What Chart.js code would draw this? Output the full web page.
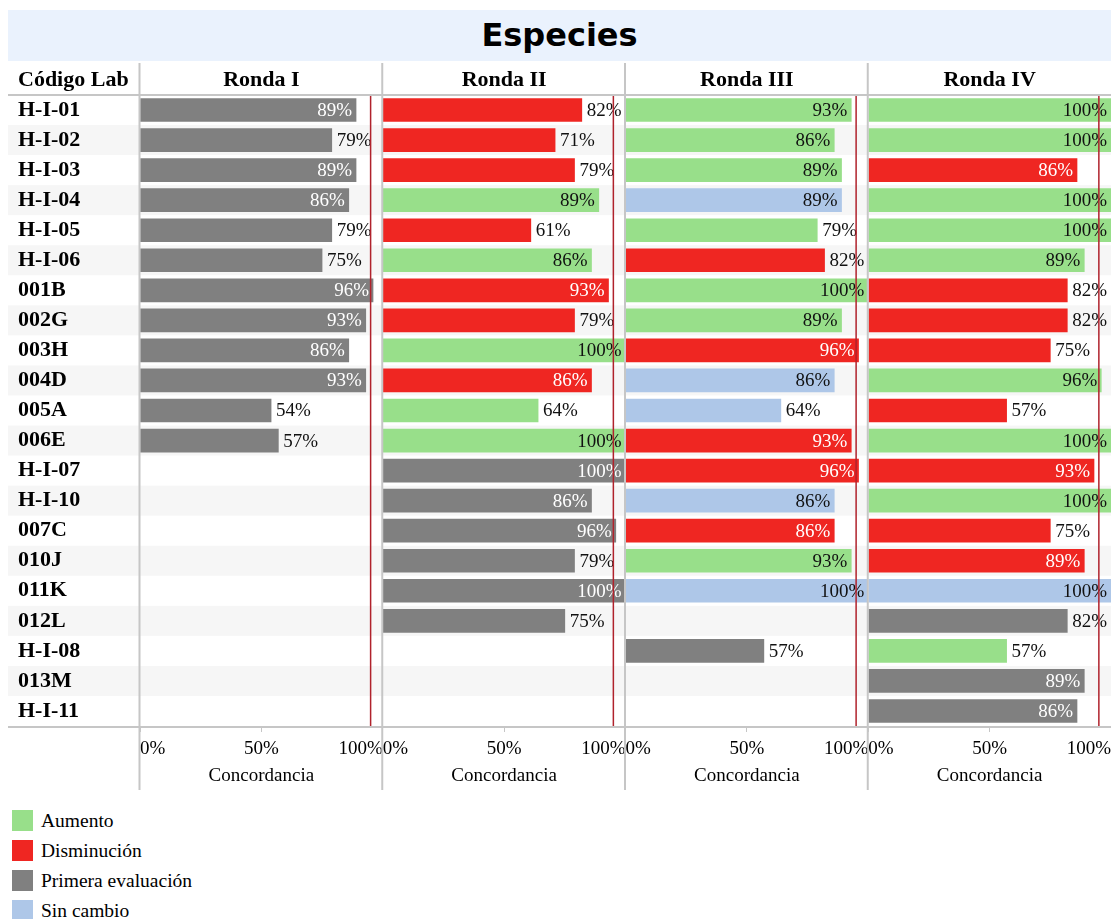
<!DOCTYPE html>
<html lang="es">
<head>
<meta charset="UTF-8">
<title>Especies</title>
<script src="https://cdn.jsdelivr.net/npm/chart.js"></script>
<style>
    body {
        margin: 0;
        background: #fff;
        font-family: 'Liberation Serif', 'Times New Roman', serif;
        color: #000;
    }
    .contenedor {
        position: relative;
        width: 1111px;
        height: 919px;
        overflow: hidden;
    }
    .titulo {
        position: absolute;
        left: 8px;
        top: 10px;
        width: 1103px;
        height: 51px;
        background: #eaf2fd;
        font: bold 32px 'DejaVu Sans', sans-serif;
        text-align: center;
        line-height: 51px;
    }
    #grafico {
        position: absolute;
        left: 0;
        top: 63px;
    }
    .leyenda {
        position: absolute;
        left: 12px;
        top: 810px;
    }
    .leyenda div {
        height: 30px;
        display: flex;
        align-items: flex-start;
        font-size: 19.5px;
        line-height: 22px;
    }
    .leyenda span {
        display: inline-block;
        width: 21px;
        height: 21px;
        margin-right: 8px;
    }
</style>
</head>
<body>
<div class="contenedor">
    <div class="titulo">Especies</div>
    <canvas id="grafico" width="1111" height="735"></canvas>
    <div class="leyenda" id="leyenda"></div>
</div>

<script>
const codigos = ['H-I-01', 'H-I-02', 'H-I-03', 'H-I-04', 'H-I-05', 'H-I-06', '001B', '002G', '003H', '004D',
    '005A', '006E', 'H-I-07', 'H-I-10', '007C', '010J', '011K', '012L', 'H-I-08', '013M', 'H-I-11'];
const rondas = ['Ronda I', 'Ronda II', 'Ronda III', 'Ronda IV'];

// concordancia (%) por ronda, null = sin dato
const ronda1 = [89, 79, 89, 86, 79, 75, 96, 93, 86, 93, 54, 57, null, null, null, null, null, null, null, null, null];
const ronda2 = [82, 71, 79, 89, 61, 86, 93, 79, 100, 86, 64, 100, 100, 86, 96, 79, 100, 75, null, null, null];
const ronda3 = [93, 86, 89, 89, 79, 82, 100, 89, 96, 86, 64, 93, 96, 86, 86, 93, 100, null, 57, null, null];
const ronda4 = [100, 100, 86, 100, 100, 89, 82, 82, 75, 96, 57, 100, 93, 100, 75, 89, 100, 82, 57, 89, 86];

// A = Aumento, D = Disminución, P = Primera evaluación, S = Sin cambio
const estado1 = ['P', 'P', 'P', 'P', 'P', 'P', 'P', 'P', 'P', 'P', 'P', 'P', null, null, null, null, null, null, null, null, null];
const estado2 = ['D', 'D', 'D', 'A', 'D', 'A', 'D', 'D', 'A', 'D', 'A', 'A', 'P', 'P', 'P', 'P', 'P', 'P', null, null, null];
const estado3 = ['A', 'A', 'A', 'S', 'A', 'D', 'A', 'A', 'D', 'S', 'S', 'D', 'D', 'S', 'D', 'A', 'S', null, 'P', null, null];
const estado4 = ['A', 'A', 'D', 'A', 'A', 'A', 'D', 'D', 'D', 'A', 'D', 'A', 'D', 'A', 'D', 'D', 'S', 'P', 'A', 'P', 'P'];

const ticksX = [0, 50, 100];
const umbral = 95;

const nombresEstado = { A: 'Aumento', D: 'Disminución', P: 'Primera evaluación', S: 'Sin cambio' };
const colores = { A: '#98df8a', D: '#ef2622', P: '#808080', S: '#aec7e8' };
const oscuros = ['D', 'P'];

const valores = [ronda1, ronda2, ronda3, ronda4];
const estados = [estado1, estado2, estado3, estado4];

const fuente = "'Liberation Serif', 'Times New Roman', serif";
const gris = '#c6c6c6';

// leyenda en html
const leyenda = document.getElementById('leyenda');
Object.keys(nombresEstado).forEach(k => {
    const fila = document.createElement('div');
    fila.innerHTML = `<span style="background:${colores[k]}"></span>${nombresEstado[k]}`;
    leyenda.appendChild(fila);
});

const datasets = valores.map((vals, i) => ({
    label: rondas[i],
    data: vals,
    xAxisID: 'x' + i,
    backgroundColor: estados[i].map(e => e ? colores[e] : 'transparent'),
    grouped: false,
    barThickness: 23
}));

const escalas = {
    y: {
        type: 'category',
        offset: true,
        grid: { display: false },
        border: { display: false },
        ticks: {
            crossAlign: 'far',
            autoSkip: false,
            padding: 0,
            color: '#000',
            font: { family: fuente, size: 22, weight: 'bold' }
        },
        afterFit: s => { s.width = 122; }
    }
};
rondas.forEach((r, i) => {
    escalas['x' + i] = {
        type: 'linear',
        position: 'bottom',
        stack: 'rondas',
        stackWeight: 1,
        min: 0,
        max: 100,
        afterBuildTicks: s => { s.ticks = ticksX.map(v => ({ value: v })); },
        grid: { drawOnChartArea: false, tickLength: 6, color: gris },
        border: { display: false },
        ticks: {
            align: 'inner',
            maxRotation: 0,
            padding: 6,
            color: '#000',
            font: { family: fuente, size: 19 },
            callback: v => v + '%'
        },
        title: {
            display: true,
            text: 'Concordancia',
            color: '#000',
            font: { family: fuente, size: 19 },
            padding: { top: 0, bottom: 3 }
        },
        afterFit: s => {
            s.height = 64;
            s.paddingLeft = 0;
            s.paddingRight = 0;
        }
    };
});

const fondoFilas = {
    id: 'fondoFilas',
    beforeDraw(chart) {
        const { ctx, chartArea } = chart;
        const alto = (chartArea.bottom - chartArea.top) / codigos.length;
        ctx.save();
        ctx.fillStyle = '#f6f6f6';
        codigos.forEach((c, i) => {
            if (i % 2 === 1) {
                ctx.fillRect(8, chartArea.top + i * alto, chart.width - 8, alto);
            }
        });
        ctx.restore();
    }
};

const decoracion = {
    id: 'decoracion',
    afterDraw(chart) {
        const { ctx, chartArea } = chart;
        ctx.save();

        // etiquetas de las barras
        ctx.font = '19px ' + fuente;
        ctx.textBaseline = 'middle';
        chart.data.datasets.forEach((ds, i) => {
            chart.getDatasetMeta(i).data.forEach((bar, j) => {
                const v = ds.data[j];
                if (v === null) return;
                if (v >= 85) {
                    ctx.textAlign = 'right';
                    ctx.fillStyle = oscuros.includes(estados[i][j]) ? '#fff' : '#111';
                    ctx.fillText(v + '%', bar.x - 4, bar.y + 1);
                } else {
                    ctx.textAlign = 'left';
                    ctx.fillStyle = '#111';
                    ctx.fillText(v + '%', bar.x + 5, bar.y + 1);
                }
            });
        });

        // lineas de referencia
        ctx.strokeStyle = '#b0222c';
        ctx.lineWidth = 1.5;
        rondas.forEach((r, i) => {
            const x = chart.scales['x' + i].getPixelForValue(umbral);
            ctx.beginPath();
            ctx.moveTo(x, chartArea.top);
            ctx.lineTo(x, chartArea.bottom);
            ctx.stroke();
        });

        // separadores y lineas horizontales
        ctx.strokeStyle = gris;
        ctx.lineWidth = 2;
        ctx.beginPath();
        ctx.moveTo(8, chartArea.top);
        ctx.lineTo(chart.width, chartArea.top);
        ctx.moveTo(8, chartArea.bottom + 1);
        ctx.lineTo(chart.width, chartArea.bottom + 1);
        rondas.forEach((r, i) => {
            const x = chart.scales['x' + i].left - 0.5;
            ctx.moveTo(x, 0);
            ctx.lineTo(x, chartArea.bottom + 64);
        });
        ctx.stroke();

        // encabezados
        ctx.fillStyle = '#000';
        ctx.font = 'bold 22px ' + fuente;
        ctx.textAlign = 'left';
        ctx.fillText('Código Lab', 18, chartArea.top / 2 + 1);
        ctx.textAlign = 'center';
        rondas.forEach((r, i) => {
            const s = chart.scales['x' + i];
            ctx.fillText(r, (s.left + s.right) / 2, chartArea.top / 2 + 1);
        });
        ctx.restore();
    }
};

new Chart(document.getElementById('grafico'), {
    type: 'bar',
    data: { labels: codigos, datasets: datasets },
    options: {
        indexAxis: 'y',
        responsive: false,
        animation: false,
        layout: { padding: { top: 32, left: 18, right: 0, bottom: 8 } },
        plugins: {
            legend: { display: false },
            tooltip: { enabled: false }
        },
        scales: escalas
    },
    plugins: [fondoFilas, decoracion]
});
</script>
</body>
</html>
